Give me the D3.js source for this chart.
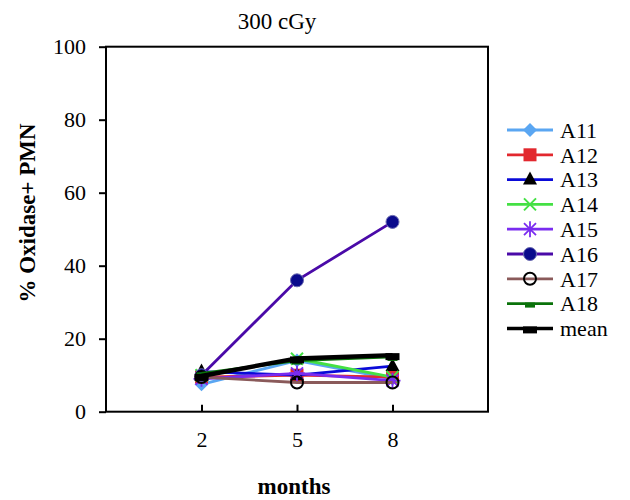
<!DOCTYPE html>
<meta charset='utf-8'>
<style>
  body { margin:0; background:#fff; }
  text { fill:#000; }
  .axis path, .axis line { stroke:#000; stroke-width:2px; }
</style>
<body>
  <script src='https://d3js.org/d3.v7.min.js'></script>
  <script>
    var months = ['2','5','8'];
    var yTicks = [0,20,40,60,80,100];
    var names = ['A11','A12','A13','A14','A15','A16','A17','A18','mean'];
    var a11 = [7.5,14,9];
    var a12 = [9.5,10,9.5];
    var a13 = [11,10,12.5];
    var a14 = [10,14.5,9.5];
    var a15 = [9,10.5,8.5];
    var a16 = [10,36,52];
    var a17 = [9.5,8,8];
    var a18 = [10.5,14,15];
    var mean = [9.8,14.6,15.5];

    var lineColors = ['#5aa6f2','#e2282e','#0a0ad8','#44e044','#7a2cf0','#4a0aa8','#8a5a5a','#0a720a','#000'];
    var markFill = ['#5aa6f2','#e2282e','#000','none','none','#0a0a8c','none','#0a720a','#000'];
    var markStroke = ['none','none','none','#44e044','#7a2cf0','#0a0a8c','#000','none','none'];
    var shapes = ['diamond','square','triangle','x','star','circle','ring','dash','bigdash'];
    var series = [a11,a12,a13,a14,a15,a16,a17,a18,mean];

    var serif = "'Liberation Serif', 'DejaVu Serif', serif";
    var width = 630, height = 500;
    var plotL = 106, plotR = 488, plotT = 46.7, plotB = 411.7;

    var svg = d3.select('body').append('svg')
      .attr('width',width)
      .attr('height',height)
      .attr('font-family',serif);

    var x = d3.scalePoint().domain(months).range([plotL,plotR]).padding(1);
    var y = d3.scaleLinear().domain([0,100]).range([plotB,plotT]);

    // frame
    svg.append('rect')
      .attr('x',plotL).attr('y',plotT)
      .attr('width',plotR-plotL).attr('height',plotB-plotT)
      .attr('fill','none').attr('stroke','#000').attr('stroke-width',2);

    svg.append('g').attr('class','axis')
      .attr('transform','translate(' + plotL + ',0)')
      .call(d3.axisLeft(y).tickValues(yTicks).tickSize(7).tickPadding(13))
      .call(function(g){ g.select('.domain').remove(); })
      .attr('font-family',serif).attr('font-size',22);

    svg.append('g').attr('class','axis')
      .attr('transform','translate(0,' + plotB + ')')
      .call(d3.axisBottom(x).tickSize(-7).tickPadding(20))
      .call(function(g){ g.select('.domain').remove(); })
      .attr('font-family',serif).attr('font-size',22);

    function marker(g, shape, i, cx, cy) {
      var f = markFill[i], s = markStroke[i];
      if (shape === 'diamond') {
        g.append('path').attr('d','M0,-7L7,0L0,7L-7,0Z').attr('transform','translate('+cx+','+cy+')').attr('fill',f);
      } else if (shape === 'square') {
        g.append('rect').attr('x',cx-6.5).attr('y',cy-6.5).attr('width',13).attr('height',13).attr('fill',f);
      } else if (shape === 'triangle') {
        g.append('path').attr('d','M0,-8L7,5L-7,5Z').attr('transform','translate('+cx+','+cy+')').attr('fill',f);
      } else if (shape === 'x') {
        g.append('path').attr('d','M-6,-6L6,6M-6,6L6,-6').attr('transform','translate('+cx+','+cy+')')
          .attr('stroke',s).attr('stroke-width',2).attr('fill','none');
      } else if (shape === 'star') {
        g.append('path').attr('d','M-6,-6L6,6M-6,6L6,-6M0,-8L0,8M-8,0L8,0').attr('transform','translate('+cx+','+cy+')')
          .attr('stroke',s).attr('stroke-width',1.8).attr('fill','none');
      } else if (shape === 'circle') {
        g.append('circle').attr('cx',cx).attr('cy',cy).attr('r',6.5).attr('fill',f)
          .attr('stroke','#6a6ab0').attr('stroke-width',1);
      } else if (shape === 'ring') {
        g.append('circle').attr('cx',cx).attr('cy',cy).attr('r',6).attr('fill','none')
          .attr('stroke',s).attr('stroke-width',2);
      } else if (shape === 'dash') {
        g.append('rect').attr('x',cx-5).attr('y',cy-1).attr('width',10).attr('height',5).attr('fill',f);
      } else if (shape === 'bigdash') {
        g.append('rect').attr('x',cx-7).attr('y',cy-2).attr('width',14).attr('height',7).attr('fill',f);
      }
    }

    var line = d3.line().x(function(d,i){ return x(months[i]); }).y(function(d){ return y(d); });

    series.forEach(function(vals,i){
      var g = svg.append('g');
      g.append('path').datum(vals)
        .attr('d',line)
        .attr('fill','none')
        .attr('stroke',lineColors[i])
        .attr('stroke-width', i === 8 ? 4.5 : 2.8);
      vals.forEach(function(v,j){ marker(g, shapes[i], i, x(months[j]), y(v)); });
    });

    // legend
    var leg = svg.append('g');
    names.forEach(function(n,i){
      var yy = 130 + i*24.8;
      leg.append('line').attr('x1',507).attr('x2',553).attr('y1',yy).attr('y2',yy)
        .attr('stroke',lineColors[i]).attr('stroke-width', i === 8 ? 3.5 : 2.8);
      marker(leg, shapes[i], i, 530, yy);
      leg.append('text').attr('x',560).attr('y',yy).attr('dy','0.35em')
        .attr('font-size',22).text(n);
    });

    svg.append('text').attr('x',277).attr('y',29).attr('text-anchor','middle')
      .attr('font-size',23).text('300 cGy');
    svg.append('text').attr('x',294).attr('y',494).attr('text-anchor','middle')
      .attr('font-size',23).attr('font-weight','bold').text('months');
    svg.append('text').attr('transform','translate(35,213) rotate(-90)').attr('text-anchor','middle')
      .attr('font-size',23).attr('font-weight','bold').text('% Oxidase+ PMN');
  </script>
</body>
